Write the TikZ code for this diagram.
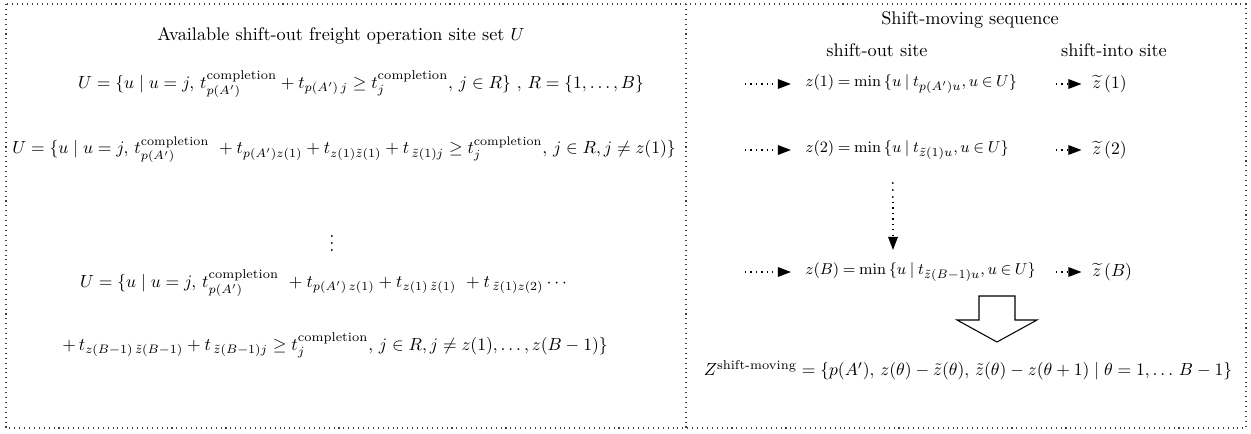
\documentclass[tikz,border=0pt]{standalone}
\usepackage{amsmath,amssymb}
\usetikzlibrary{arrows.meta}
\newcommand\mytightmath{\thickmuskip=4mu plus 2mu\relax\medmuskip=3mu plus 1mu\relax}
\begin{document}
\begin{tikzpicture}[x=0.57pt,y=-0.57pt,
  every node/.style={inner sep=0pt, font=\fontsize{10.4}{12}\selectfont},
  small/.style={font=\fontsize{10.1}{12}\selectfont},
  tight/.style={font={\fontsize{9.5}{12}\selectfont\mytightmath}},
  frame/.style={draw=black!75, line width=0.6pt, dash pattern=on 0.6pt off 2.2pt},
  dotarr/.style={draw=black, line width=0.7pt, dash pattern=on 0.7pt off 2.4pt, -{Triangle[length=7.5pt,width=5.5pt]}},
  hollow/.style={draw=black, line width=0.6pt}]
\useasboundingbox (0,0) rectangle (1251,434);
% frames
\draw[frame] (6,4) rectangle (1246,428);
\draw[frame] (686,4) -- (686,428);
% left panel
\node (ltitle) at (341,36) {Available shift-out freight operation site set $U$};
\node (l1) at (361,84) {$U=\{u \mid u=j,\, t^{\text{completion}}_{p(A')}+t_{p(A')\,j}\geq t^{\text{completion}}_{j},\, j\in R\}\ ,\, R=\{1,\ldots,B\}$};
\node[small] (l2) at (344,150) {$U=\{u \mid u=j,\, t^{\text{completion}}_{p(A')}\ +t_{p(A')z(1)}+t_{z(1)\tilde{z}(1)}+t_{\,\tilde{z}(1)j}\geq t^{\text{completion}}_{j},\, j\in R, j\neq z(1)\}$};
\node (ldots) at (332,238) {$\vdots$};
\node (l3) at (325,283) {$U=\{u \mid u=j,\, t^{\text{completion}}_{p(A')}\ +t_{p(A')\,z(1)}+t_{z(1)\,\tilde{z}(1)}\ +t_{\,\tilde{z}(1)z(2)}\cdots$};
\node (l4) at (335,345) {$+\,t_{z(B-1)\,\tilde{z}(B-1)}+t_{\,\tilde{z}(B-1)j}\geq t^{\text{completion}}_{j},\, j\in R, j\neq z(1),\ldots,z(B-1)\}$};
% right panel
\node (rtitle) at (970,20) {Shift-moving sequence};
\node (hout) at (877,50) {shift-out site};
\node (hin) at (1114,50) {shift-into site};
\node[tight, anchor=west] (z1) at (805,84) {$z(1)=\min\,\{u \mid t_{p(A')u}, u\in U\}$};
\node[tight, anchor=west] (z2) at (805,150) {$z(2)=\min\,\{u \mid t_{\tilde{z}(1)u}, u\in U\}$};
\node (rdots) at (893,185) {$\vdots$};
\node[tight, anchor=west] (zB) at (805,272) {$z(B)=\min\,\{u \mid t_{\tilde{z}(B-1)u}, u\in U\}$};
\node[anchor=west] (zt1) at (1092,84) {$\widetilde{z}\,(1)$};
\node[anchor=west] (zt2) at (1092,150) {$\widetilde{z}\,(2)$};
\node[anchor=west] (ztB) at (1092,272) {$\widetilde{z}\,(B)$};
\node (zres) at (968,370) {$Z^{\text{shift-moving}}=\{p(A'),\, z(\theta)-\tilde{z}(\theta),\, \tilde{z}(\theta)-z(\theta+1)\mid \theta=1,\ldots\, B-1\}$};
% arrow start points
\coordinate (a1) at (745,84);
\coordinate (a2) at (745,150);
\coordinate (aB) at (745,272);
\coordinate (b1) at (1056,84);
\coordinate (b2) at (1056,150);
\coordinate (bB) at (1056,272);
\coordinate (v1) at (893,202);
\coordinate (v2) at (893,250);
\draw[dotarr] (a1) -- ([xshift=-8pt]z1.west);
\draw[dotarr] (a2) -- ([xshift=-8pt]z2.west);
\draw[dotarr] (aB) -- ([xshift=-8pt]zB.west);
\draw[dotarr] (b1) -- ([xshift=-6pt]zt1.west);
\draw[dotarr] (b2) -- ([xshift=-6pt]zt2.west);
\draw[dotarr] (bB) -- ([xshift=-6pt]ztB.west);
\draw[dotarr] (v1) -- (v2);
% hollow arrow
\draw[hollow] (979,296) -- (1015,296) -- (1015,320) -- (1037,320) -- (997,342) -- (957,320) -- (979,320) -- cycle;
\end{tikzpicture}
\end{document}
